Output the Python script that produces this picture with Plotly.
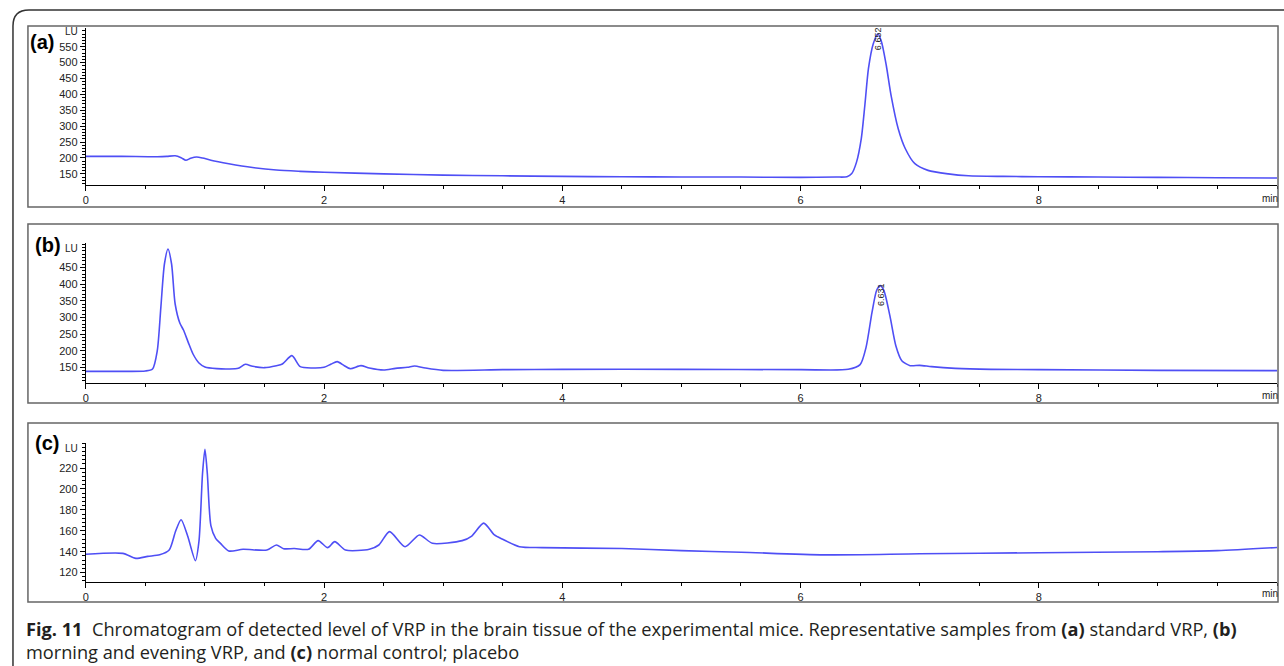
import plotly.graph_objects as go

# ---------------- data ----------------
xa = [0, 0.3, 0.6, 0.68, 0.75, 0.8, 0.84, 0.88, 0.93, 0.98, 1.05, 1.2, 1.4, 1.6, 1.8, 2.0,
      2.5, 3.0, 3.5, 4.0, 4.5, 5.0, 5.5, 6.0, 6.3, 6.39, 6.43, 6.47, 6.51, 6.54, 6.57, 6.61,
      6.65, 6.68, 6.72, 6.76, 6.82, 6.88, 6.96, 7.07, 7.24, 7.41, 7.7, 8.0, 8.5, 9.0, 9.5, 10.0]
ya = [205, 205, 204, 205, 207, 201, 193, 199, 203, 200, 193, 182, 170, 162, 158, 155,
      150, 146, 144, 142, 141, 140, 140, 139, 140, 141, 151, 187, 261, 366, 481, 559,
      591, 565, 491, 397, 292, 229, 182, 161, 150, 144, 142, 141, 140, 139, 138, 137]

xb = [0, 0.3, 0.5, 0.56, 0.6, 0.63, 0.66, 0.69, 0.72, 0.75, 0.79, 0.82, 0.86, 0.9, 0.95, 1.0,
      1.1, 1.2, 1.28, 1.34, 1.4, 1.5, 1.6, 1.65, 1.73, 1.8, 1.9, 2.0, 2.06, 2.11, 2.17, 2.22,
      2.31, 2.38, 2.5, 2.6, 2.7, 2.76, 2.85, 3.0, 3.5, 4.0, 5.0, 6.0, 6.4, 6.5, 6.55, 6.6,
      6.64, 6.67, 6.7, 6.75, 6.8, 6.85, 6.92, 7.0, 7.1, 7.3, 7.6, 8.0, 9.0, 10.0]
yb = [138, 138, 139, 145, 200, 330, 460, 505, 460, 340, 282, 262, 225, 190, 163, 151,
      146, 145, 147, 159, 153, 149, 155, 160, 185, 152, 148, 150, 160, 167, 155, 146,
      155, 148, 142, 147, 150, 154, 148, 141, 143, 144, 144, 143, 144, 158, 210, 315,
      382, 395, 380, 305, 215, 170, 155, 156, 152, 147, 144, 143, 141, 140]

xc = [0, 0.31, 0.42, 0.52, 0.62, 0.70, 0.755, 0.80, 0.855, 0.92, 0.95, 0.98, 1.0, 1.02, 1.05,
      1.09, 1.13, 1.2, 1.32, 1.52, 1.6, 1.66, 1.75, 1.87, 1.95, 2.03, 2.09, 2.18, 2.38, 2.46,
      2.55, 2.68, 2.8, 2.91, 3.16, 3.24, 3.34, 3.43, 3.5, 3.64, 3.83, 4.5, 5.0, 5.5, 6.2,
      7.0, 8.0, 9.0, 9.5, 10.0]
yc = [137.5, 138.4, 133.6, 135.5, 137, 141.6, 160, 170.5, 155, 131.4, 150, 215, 238, 215, 165,
      152.8, 148, 140.7, 142.3, 141.6, 146.4, 142.9, 143, 142.3, 150.6, 143.9, 149.6, 141.6, 142.3, 146.4,
      159.2, 144.8, 156, 148, 150.6, 155, 167.3, 156, 151.9, 144.8, 143.9, 143, 141, 139.5, 137,
      138, 139, 140, 141, 144]

panel_labels = ["(a)", "(b)", "(c)"]
peak_labels = ["6.652", "6.631"]
peak_x = [6.65, 6.67]
peak_y = [577, 368]
y_ranges = [[115, 609], [103, 523], [111, 244]]
y_ticks = [[150, 200, 250, 300, 350, 400, 450, 500, 550],
           [150, 200, 250, 300, 350, 400, 450],
           [120, 140, 160, 180, 200, 220]]
y_minor = [10, 10, 4]
x_ticks = [0, 2, 4, 6, 8]
caption_l1 = ("<b>Fig. 11</b>  Chromatogram of detected level of VRP in the brain tissue of the "
              "experimental mice. Representative samples from <b>(a)</b> standard VRP, <b>(b)</b>")
caption_l2 = "morning and evening VRP, and <b>(c)</b> normal control; placebo"

# ---------------- layout helpers ----------------
W, H = 1284, 666
def px(x):
    return x / W
def py(y):
    return 1 - y / H

plot_x = (83, 1277)
plot_y = [(28, 185), (243, 383), (443, 582)]
boxes = [(25, 26, 1278, 207), (25, 224, 1278, 403), (25, 423, 1278, 602)]
label_pos = [(25, 42), (30, 245), (30, 443)]
lu_y = [31, 249, 448]
min_y = [198, 395, 593]

LINE = "#4f4ff5"
TICKFONT = dict(family="Liberation Sans, Arial", size=11, color="#222")

fig = go.Figure()
series = [(xa, ya), (xb, yb), (xc, yc)]
for i, (xs, ys) in enumerate(series):
    n = "" if i == 0 else str(i + 1)
    fig.add_trace(go.Scatter(x=xs, y=ys, mode="lines",
                             line=dict(color=LINE, width=1.6, shape="spline", smoothing=0.7),
                             xaxis="x" + n, yaxis="y" + n, showlegend=False,
                             hoverinfo="skip"))

layout = dict(width=W, height=H, margin=dict(l=0, r=0, t=0, b=0),
              paper_bgcolor="white", plot_bgcolor="white", showlegend=False)
for i in range(3):
    n = "" if i == 0 else str(i + 1)
    y0, y1 = plot_y[i]
    layout["xaxis" + n] = dict(domain=[px(plot_x[0]), px(plot_x[1])], range=[0, 10],
                               anchor="y" + n, showline=True, linecolor="black", linewidth=1,
                               ticks="outside", ticklen=5, tickwidth=1, tickcolor="black",
                               tickvals=x_ticks, ticktext=[str(v) for v in x_ticks],
                               tickfont=TICKFONT, showgrid=False, zeroline=False,
                               minor=dict(dtick=0.5, tick0=0, ticks="outside", ticklen=3,
                                          tickcolor="black", showgrid=False),
                               fixedrange=True)
    layout["yaxis" + n] = dict(domain=[py(y1), py(y0)], range=y_ranges[i], anchor="x" + n,
                               showline=True, linecolor="black", linewidth=1,
                               ticks="outside", ticklen=5, tickwidth=1, tickcolor="black",
                               tickvals=y_ticks[i], tickfont=TICKFONT, showgrid=False,
                               zeroline=False,
                               minor=dict(dtick=y_minor[i], tick0=0, ticks="outside", ticklen=3,
                                          tickcolor="black", showgrid=False),
                               fixedrange=True)
fig.update_layout(**layout)

shapes = []
for (x0, y0, x1, y1) in boxes:
    shapes.append(dict(type="rect", xref="paper", yref="paper",
                       x0=px(x0), x1=px(x1), y0=py(y1), y1=py(y0),
                       line=dict(color="#666", width=1.5), fillcolor="rgba(0,0,0,0)"))
# outer rounded frame
r = 16
path = (f"M {px(10)},{py(700)} L {px(10)},{py(10 + r)} "
        f"Q {px(10)},{py(10)} {px(10 + r)},{py(10)} L {px(1300)},{py(10)}")
shapes.append(dict(type="path", xref="paper", yref="paper", path=path,
                   line=dict(color="#333", width=1.5)))
fig.update_layout(shapes=shapes)

ann = []
for i in range(3):
    lx, ly = label_pos[i]
    ann.append(dict(text="<b>" + panel_labels[i] + "</b>", xref="paper", yref="paper",
                    x=px(lx), y=py(ly), xanchor="left", yanchor="middle", showarrow=False,
                    font=dict(family="Liberation Sans, Arial", size=20, color="black")))
    ann.append(dict(text="LU", xref="paper", yref="paper", x=px(77), y=py(lu_y[i]),
                    xanchor="right", yanchor="middle", showarrow=False,
                    font=dict(family="Liberation Sans, Arial", size=10, color="#222")))
    ann.append(dict(text="min", xref="paper", yref="paper", x=px(1280), y=py(min_y[i]),
                    xanchor="right", yanchor="middle", showarrow=False,
                    font=dict(family="Liberation Sans, Arial", size=10, color="#222")))
for i in range(2):
    n = "" if i == 0 else str(i + 1)
    ann.append(dict(text=peak_labels[i], xref="x" + n, yref="y" + n, x=peak_x[i], y=peak_y[i],
                    textangle=-90, xanchor="center", yanchor="middle", showarrow=False,
                    font=dict(family="Liberation Sans, Arial", size=9, color="#222")))
ann.append(dict(text=caption_l1, xref="paper", yref="paper", x=px(21), y=py(629),
                xanchor="left", yanchor="middle", showarrow=False, align="left",
                font=dict(family="Open Sans", size=18.2, color="#231f20")))
ann.append(dict(text=caption_l2, xref="paper", yref="paper", x=px(21), y=py(652),
                xanchor="left", yanchor="middle", showarrow=False, align="left",
                font=dict(family="Open Sans", size=18.2, color="#231f20")))
fig.update_layout(annotations=ann)

fig.write_html("out.html", config={"displayModeBar": False},
               post_script="document.body.style.margin='0px';document.body.style.overflow='hidden';")
